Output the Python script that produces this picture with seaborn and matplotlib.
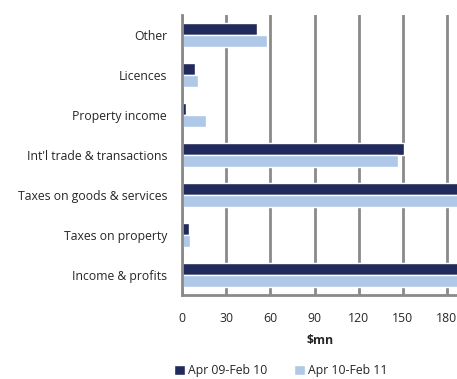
import matplotlib
matplotlib.use("Agg")
import matplotlib.pyplot as plt
import seaborn as sns
import pandas as pd

categories = [
    "Other",
    "Licences",
    "Property income",
    "Int'l trade & transactions",
    "Taxes on goods & services",
    "Taxes on property",
    "Income & profits",
]
series_names = ["Apr 09-Feb 10", "Apr 10-Feb 11"]
values_0910 = [50.6, 8.4, 2.7, 150.9, 215.0, 4.3, 240.0]
values_1011 = [57.5, 10.4, 15.9, 146.8, 225.0, 5.0, 250.0]
x_ticks = [0, 30, 60, 90, 120, 150, 180]

df = pd.DataFrame({
    "category": categories * 2,
    "period": [series_names[0]] * len(categories) + [series_names[1]] * len(categories),
    "value": values_0910 + values_1011,
})

sns.set_style("white")
plt.rcParams["font.family"] = ["Open Sans", "DejaVu Sans"]
FS = 8.8

fig = plt.figure(figsize=(4.57, 3.79), dpi=100)
ax = fig.add_axes([0.399, 0.222, 0.601, 0.738])

sns.barplot(
    data=df, y="category", x="value", hue="period", order=categories,
    hue_order=series_names, palette=["#202a5c", "#b0c8e8"],
    orient="h", width=0.6, saturation=1, ax=ax, legend=True,
)

ax.set_xlim(0, 187)
ax.set_xticks(x_ticks)
ax.set_xticklabels([str(t) for t in x_ticks], fontsize=FS)
ax.tick_params(axis="x", direction="out", length=3, width=1.5, color="#8a8a8a", pad=9)
ax.tick_params(axis="y", length=0, pad=11, labelsize=FS)
ax.set_ylabel("")
ax.set_xlabel("$mn", fontsize=FS, fontweight="bold", labelpad=7)

ax.set_axisbelow(True)
ax.xaxis.grid(True, color="#8a8a8a", linewidth=2)
for name in ["top", "right"]:
    ax.spines[name].set_visible(False)
for name in ["left", "bottom"]:
    ax.spines[name].set_color("#8a8a8a")
    ax.spines[name].set_linewidth(2)

handles, labels = ax.get_legend_handles_labels()
ax.get_legend().remove()
fig.legend(
    handles, labels, loc="lower center", bbox_to_anchor=(0.615, -0.025), ncol=2,
    frameon=False, fontsize=FS, handlelength=0.9, handleheight=0.9,
    handletextpad=0.25, columnspacing=2.2,
)

fig.savefig("out.png", dpi=100)
